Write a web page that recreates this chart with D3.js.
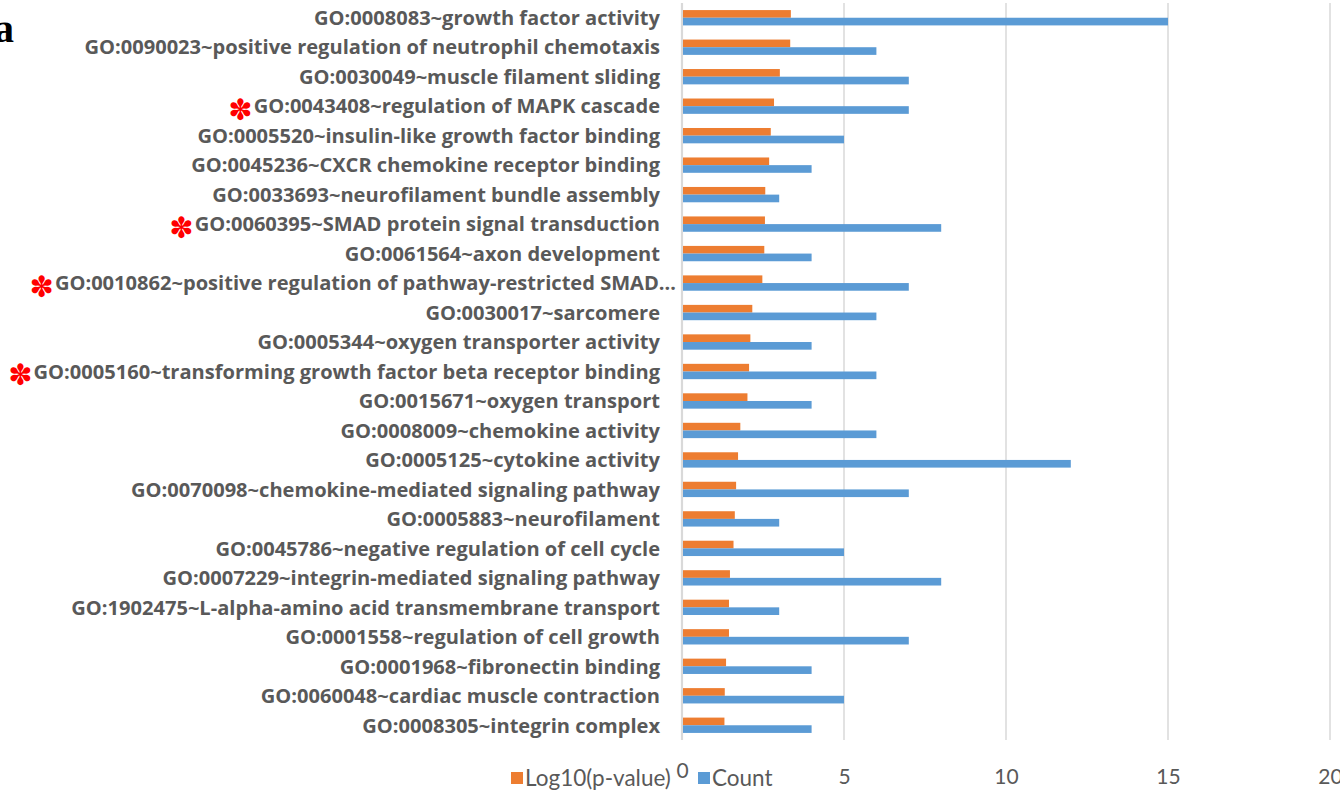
<!DOCTYPE html>
<html>
<head>
<meta charset="utf-8">
<script src="https://cdn.jsdelivr.net/npm/d3@7"></script>
<style>
  html, body { margin: 0; padding: 0; background: #fff; }
  svg { display: block; }
</style>
</head>
<body>
<svg id="chart" width="1340" height="792"></svg>
<script>
// GO terms, top to bottom
const categories = [
  "GO:0008083~growth factor activity",
  "GO:0090023~positive regulation of neutrophil chemotaxis",
  "GO:0030049~muscle filament sliding",
  "GO:0043408~regulation of MAPK cascade",
  "GO:0005520~insulin-like growth factor binding",
  "GO:0045236~CXCR chemokine receptor binding",
  "GO:0033693~neurofilament bundle assembly",
  "GO:0060395~SMAD protein signal transduction",
  "GO:0061564~axon development",
  "GO:0010862~positive regulation of pathway-restricted SMAD…",
  "GO:0030017~sarcomere",
  "GO:0005344~oxygen transporter activity",
  "GO:0005160~transforming growth factor beta receptor binding",
  "GO:0015671~oxygen transport",
  "GO:0008009~chemokine activity",
  "GO:0005125~cytokine activity",
  "GO:0070098~chemokine-mediated signaling pathway",
  "GO:0005883~neurofilament",
  "GO:0045786~negative regulation of cell cycle",
  "GO:0007229~integrin-mediated signaling pathway",
  "GO:1902475~L-alpha-amino acid transmembrane transport",
  "GO:0001558~regulation of cell growth",
  "GO:0001968~fibronectin binding",
  "GO:0060048~cardiac muscle contraction",
  "GO:0008305~integrin complex"
];

// -log10(p-value) per term
const logP = [3.36, 3.34, 3.02, 2.84, 2.74, 2.69, 2.57, 2.56, 2.54, 2.48,
              2.17, 2.11, 2.07, 2.02, 1.80, 1.73, 1.67, 1.63, 1.59, 1.48,
              1.45, 1.45, 1.36, 1.32, 1.31];

// gene count per term
const counts = [15, 6, 7, 7, 5, 4, 3, 8, 4, 7,
                6, 4, 6, 4, 6, 12, 7, 3, 5, 8,
                3, 7, 4, 5, 4];

// terms flagged with a red marker
const marked = [
  "GO:0043408~regulation of MAPK cascade",
  "GO:0060395~SMAD protein signal transduction",
  "GO:0010862~positive regulation of pathway-restricted SMAD…",
  "GO:0005160~transforming growth factor beta receptor binding"
];

const seriesNames = ["Log10(p-value)", "Count"];
const xTicks = [0, 5, 10, 15, 20];
const panelLabel = "a";

const colors = { "Log10(p-value)": "#ED7D31", "Count": "#5B9BD5" };
const textColor = "#595959";
const labelFont = "'Open Sans', Lato, sans-serif";
const smallFont = "Lato, 'Open Sans', sans-serif";

const svg = d3.select("#chart");
const plot = { left: 682, right: 1330, top: 3, bottom: 740 };

const x = d3.scaleLinear().domain([0, 20]).range([plot.left, plot.right]);
const y = d3.scaleBand().domain(categories).range([plot.top, plot.bottom]).paddingInner(0.48).paddingOuter(0.24);
const ySub = d3.scaleBand().domain(seriesNames).range([0, y.bandwidth()]);

// vertical gridlines
svg.append("g")
  .selectAll("line")
  .data(xTicks)
  .join("line")
  .attr("x1", d => x(d)).attr("x2", d => x(d))
  .attr("y1", plot.top).attr("y2", plot.bottom)
  .attr("stroke", "#D9D9D9")
  .attr("stroke-width", d => d === 0 ? 2.2 : 1.5);

// bars
const rows = categories.map((c, i) => ({ cat: c, vals: [
  { key: "Log10(p-value)", v: logP[i] },
  { key: "Count", v: counts[i] }
]}));

const gRow = svg.append("g").selectAll("g")
  .data(rows)
  .join("g")
  .attr("transform", d => `translate(0,${y(d.cat)})`);

gRow.selectAll("rect")
  .data(d => d.vals)
  .join("rect")
  .attr("x", x(0) + 1)
  .attr("y", d => ySub(d.key))
  .attr("width", d => x(d.v) - x(0) - 1)
  .attr("height", ySub.bandwidth())
  .attr("fill", d => colors[d.key]);

// category labels
const yAxis = d3.axisLeft(y).tickSize(0).tickPadding(0);
const yG = svg.append("g")
  .attr("transform", `translate(${plot.left - 22},0)`)
  .call(yAxis);
yG.select(".domain").remove();
const labels = yG.selectAll("text")
  .attr("fill", textColor)
  .attr("font-family", labelFont)
  .attr("font-weight", "bold")
  .attr("font-size", 19)
  .attr("dy", "0.36em")
  .attr("x", d => d.endsWith("…") ? 16 : 0);

// size the label font so the longest complete label spans 627px
const longest = labels.filter(d => d === "GO:0005160~transforming growth factor beta receptor binding").node();
const fitSize = 19 * 627 / longest.getComputedTextLength();
labels.attr("font-size", fitSize);

// red markers in front of flagged terms
yG.selectAll(".tick").each(function(d) {
  if (!marked.includes(d)) return;
  const t = d3.select(this).select("text");
  const w = t.node().getComputedTextLength();
  const x0 = +t.attr("x") - w;
  d3.select(this).append("text")
    .attr("x", x0 - 1)
    .attr("y", 3)
    .attr("dy", "0.36em")
    .attr("text-anchor", "end")
    .attr("fill", "#FF0000")
    .attr("font-family", "'DejaVu Sans', sans-serif")
    .attr("font-size", 29)
    .text("✽");
});

// x tick labels
const xAxis = d3.axisBottom(x).tickValues(xTicks).tickSize(0).tickPadding(0);
const xG = svg.append("g")
  .attr("transform", `translate(0,${plot.bottom})`)
  .call(xAxis);
xG.select(".domain").remove();
xG.selectAll("text")
  .attr("fill", textColor)
  .attr("font-family", smallFont)
  .attr("font-size", 21)
  .attr("dy", 0)
  .attr("y", d => d === 0 ? 38 : 44);

// legend
const legend = svg.append("g").attr("font-family", smallFont).attr("font-size", 22.5);
const legItems = [
  { key: "Log10(p-value)", x: 511 },
  { key: "Count", x: 698 }
];
legItems.forEach(it => {
  legend.append("rect")
    .attr("x", it.x).attr("y", 772)
    .attr("width", 12).attr("height", 12)
    .attr("fill", colors[it.key]);
  legend.append("text")
    .attr("x", it.x + 14).attr("y", 786)
    .attr("fill", textColor)
    .text(it.key);
});

// panel letter
svg.append("text")
  .attr("x", -6).attr("y", 42)
  .attr("font-family", "'Liberation Serif', 'Times New Roman', serif")
  .attr("font-weight", "bold")
  .attr("font-size", 40)
  .attr("fill", "#000")
  .text(panelLabel);
</script>
</body>
</html>
